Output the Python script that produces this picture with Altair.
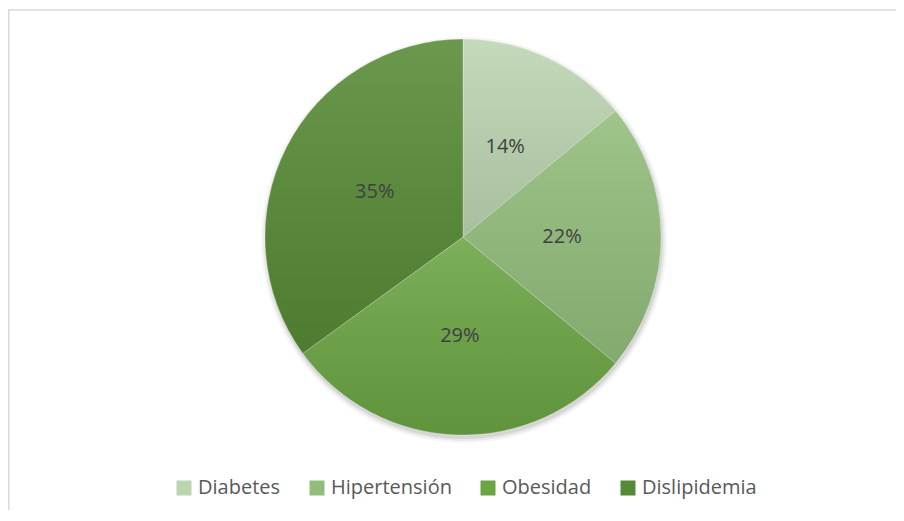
import altair as alt
import pandas as pd

categories = ["Diabetes", "Hipertensión", "Obesidad", "Dislipidemia"]
values = [14, 22, 29, 35]
labels = [f"{v}%" for v in values]
colors = ["#bcd5b1", "#92bd7b", "#6aa543", "#568a35"]

df = pd.DataFrame({"cat": categories, "val": values, "idx": list(range(len(values))), "label": labels})

CX, CY, R = 455, 229, 198

base = alt.Chart(df).encode(
    theta=alt.Theta("val:Q", stack=True),
    order=alt.Order("idx:Q"),
    x=alt.value(CX),
    y=alt.value(CY),
)

shadows = [
    base.mark_arc(radius=R + dr, color="#000000", opacity=op).encode(x=alt.value(CX + 1), y=alt.value(CY + 3))
    for dr, op in [(5, 0.035), (3, 0.05), (1, 0.08)]
]

pie = base.mark_arc(radius=R, stroke="white", strokeWidth=0.6, strokeOpacity=0.5).encode(
    color=alt.Color(
        "cat:N",
        scale=alt.Scale(domain=categories, range=colors),
        legend=alt.Legend(
            title=None,
            orient="none",
            legendX=166,
            legendY=470,
            direction="horizontal",
            symbolType="square",
            symbolSize=225,
            symbolStrokeWidth=0,
            labelFont="Open Sans",
            labelFontSize=20,
            labelColor="#595959",
            labelOffset=4,
            columnPadding=26,
            padding=0,
        ),
    )
)

overlay = base.mark_arc(
    radius=R,
    fill=alt.LinearGradient(
        gradient="linear",
        stops=[
            alt.GradientStop(color="rgba(255,255,255,0.12)", offset=0),
            alt.GradientStop(color="rgba(0,0,0,0.10)", offset=1),
        ],
        x1=0, x2=0, y1=0, y2=1,
    ),
)

text = base.mark_text(radius=99, font="Open Sans", fontSize=20, color="#404040").encode(text="label:N")

frame = alt.Chart(pd.DataFrame({"a": [0]})).mark_rect(
    filled=False, stroke="#d9d9d9", strokeWidth=1.5
).encode(x=alt.value(0.75), y=alt.value(2), x2=alt.value(940), y2=alt.value(600))

chart = alt.layer(frame, *shadows, pie, overlay, text).properties(
    width=888, height=502, padding=0, autosize=alt.AutoSizeParams(type="none"),
    background="white",
).configure_view(strokeWidth=0, stroke="transparent")

chart.save("out.html", embed_options={"renderer": "svg", "actions": False})
